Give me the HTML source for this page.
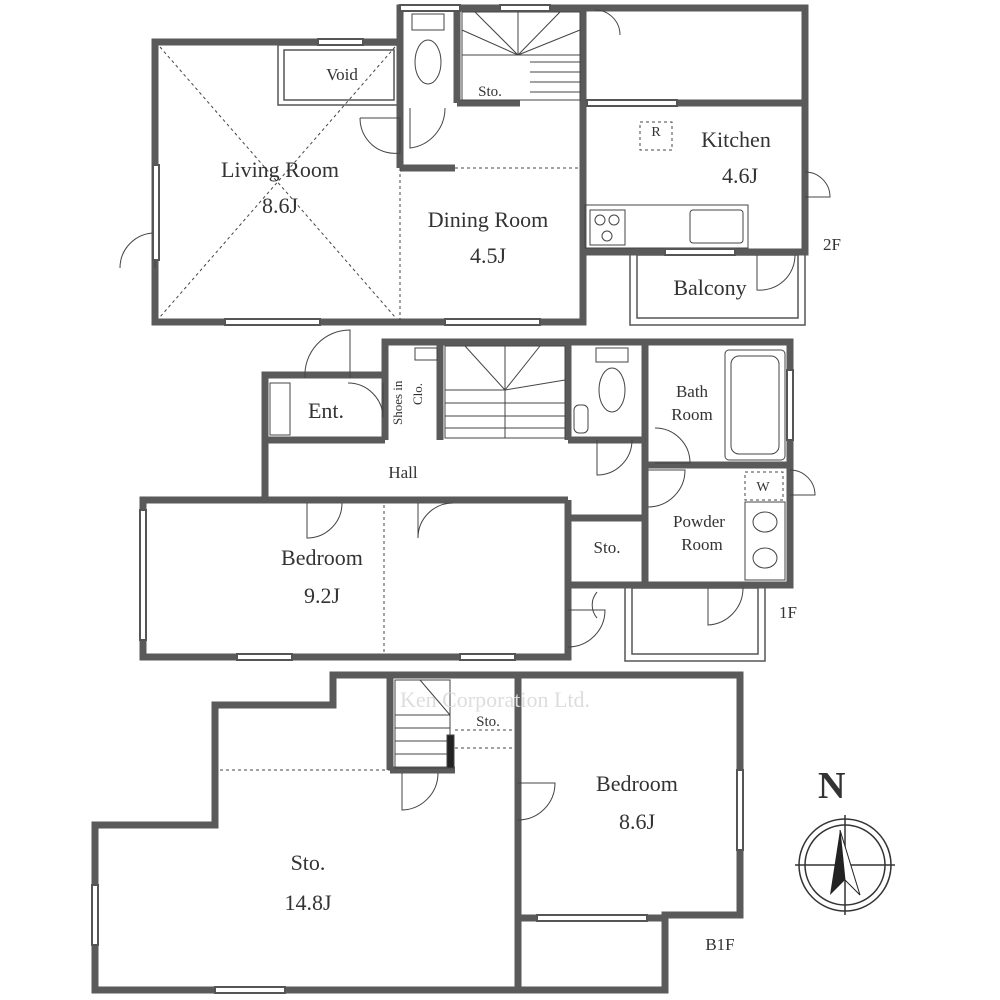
<!DOCTYPE html>
<html><head><meta charset="utf-8"><style>
html,body{margin:0;padding:0;background:#fff;}
svg{display:block;}
text{font-family:"Liberation Serif",serif;fill:#333;}
</style></head><body>
<svg width="1000" height="1000" viewBox="0 0 1000 1000" xmlns="http://www.w3.org/2000/svg">
<g fill="none" stroke="#555" stroke-width="1.5">
<!-- 2F balcony -->
<rect x="630" y="252" width="175" height="73"/><rect x="637" y="255" width="161" height="63"/>
<!-- 1F balcony -->
<rect x="625" y="585" width="140" height="76"/><rect x="632" y="588" width="126" height="66"/>
<!-- void -->
<rect x="278" y="45" width="122" height="60"/><rect x="284" y="50" width="110" height="50"/>
</g>
<!-- thick walls -->
<g fill="none" stroke="#5a5a5a" stroke-width="7" stroke-linejoin="miter">
<polygon points="155,42 400,42 400,8 805,8 805,252 583,252 583,322 155,322"/>
<line x1="400" y1="8" x2="400" y2="168"/>
<line x1="400" y1="168" x2="455" y2="168"/>
<line x1="583" y1="103" x2="805" y2="103"/>
<line x1="583" y1="8" x2="583" y2="252"/>
<line x1="457" y1="8" x2="457" y2="103"/>
<line x1="457" y1="103" x2="520" y2="103"/>
<polygon points="265,375 385,375 385,342 790,342 790,585 568,585 568,657 143,657 143,500 265,500"/>
<line x1="143" y1="500" x2="568" y2="500"/>
<line x1="568" y1="500" x2="568" y2="585"/>
<line x1="568" y1="518" x2="645" y2="518"/>
<line x1="265" y1="440" x2="385" y2="440"/>
<line x1="385" y1="342" x2="385" y2="440"/>
<line x1="440" y1="342" x2="440" y2="440"/>
<line x1="568" y1="342" x2="568" y2="440"/>
<line x1="568" y1="440" x2="645" y2="440"/>
<line x1="645" y1="342" x2="645" y2="585"/>
<line x1="645" y1="465" x2="790" y2="465"/>
<polygon points="333,675 740,675 740,915 665,915 665,990 95,990 95,825 215,825 215,705 333,705"/>
<line x1="518" y1="675" x2="518" y2="990"/>
<line x1="518" y1="918" x2="665" y2="918"/>
<line x1="390" y1="675" x2="390" y2="770"/>
<line x1="390" y1="770" x2="455" y2="770"/>
</g>
<g fill="none" stroke="#444" stroke-width="1">
<!-- living diagonals -->
<line x1="160" y1="47" x2="395" y2="317" stroke-dasharray="3,3"/>
<line x1="395" y1="47" x2="160" y2="317" stroke-dasharray="3,3"/>
<line x1="455" y1="168" x2="580" y2="168" stroke-dasharray="3,3"/>
<line x1="400" y1="168" x2="400" y2="320" stroke-dasharray="3,3"/>
<line x1="384" y1="505" x2="384" y2="652" stroke-dasharray="3,3"/>
<line x1="220" y1="770" x2="390" y2="770" stroke-dasharray="3,3"/>
<line x1="455" y1="730" x2="515" y2="730" stroke-dasharray="3,3"/>
<line x1="455" y1="748" x2="515" y2="748" stroke-dasharray="3,3"/>
<rect x="640" y="122" width="32" height="28" stroke-dasharray="3,3"/>
<rect x="745" y="472" width="38" height="28" stroke-dasharray="3,3"/>
<!-- stairs 2F -->
<rect x="462" y="12" width="118" height="88"/>
<line x1="462" y1="55" x2="580" y2="55"/><line x1="530" y1="62" x2="580" y2="62"/><line x1="530" y1="72" x2="580" y2="72"/><line x1="530" y1="82" x2="580" y2="82"/><line x1="530" y1="92" x2="580" y2="92"/>
<line x1="518" y1="12" x2="518" y2="55"/><line x1="475" y1="12" x2="518" y2="55"/><line x1="560" y1="12" x2="518" y2="55"/><line x1="580" y1="30" x2="518" y2="55"/>
<line x1="462" y1="30" x2="518" y2="55"/>
<!-- stairs 1F -->
<rect x="445" y="346" width="120" height="92"/>
<line x1="505" y1="346" x2="505" y2="438"/>
<line x1="445" y1="390" x2="505" y2="390"/><line x1="445" y1="403" x2="505" y2="403"/><line x1="445" y1="416" x2="505" y2="416"/><line x1="445" y1="428" x2="505" y2="428"/>
<line x1="505" y1="390" x2="465" y2="346"/><line x1="505" y1="390" x2="540" y2="346"/><line x1="505" y1="390" x2="565" y2="380"/>
<line x1="505" y1="403" x2="565" y2="403"/><line x1="505" y1="416" x2="565" y2="416"/><line x1="505" y1="428" x2="565" y2="428"/>
<!-- stairs B1F -->
<rect x="395" y="680" width="55" height="88"/>
<line x1="395" y1="715" x2="450" y2="715"/><line x1="395" y1="728" x2="450" y2="728"/><line x1="395" y1="741" x2="450" y2="741"/><line x1="395" y1="754" x2="450" y2="754"/>
<line x1="420" y1="680" x2="450" y2="715"/>
<!-- kitchen counter -->
<rect x="585" y="205" width="163" height="43"/>
<rect x="590" y="210" width="35" height="35"/><circle cx="600" cy="220" r="5"/><circle cx="614" cy="220" r="5"/><circle cx="607" cy="236" r="5"/>
<rect x="690" y="210" width="53" height="33" rx="3"/>
<!-- toilets -->
<rect x="412" y="14" width="32" height="16"/><ellipse cx="428" cy="62" rx="13" ry="22"/>
<rect x="596" y="348" width="32" height="14"/><ellipse cx="612" cy="390" rx="13" ry="22"/>
<rect x="574" y="405" width="14" height="28" rx="5"/>
<!-- bath -->
<rect x="725" y="350" width="60" height="110" rx="4"/><rect x="731" y="356" width="48" height="98" rx="8"/>
<rect x="745" y="502" width="40" height="78"/><ellipse cx="765" cy="522" rx="12" ry="10"/><ellipse cx="765" cy="558" rx="12" ry="10"/>
<rect x="415" y="348" width="22" height="12"/>
<rect x="270" y="383" width="20" height="52"/>
<rect x="447" y="735" width="7" height="33" fill="#222"/>
<!-- doors -->
<path d="M120,268 A35,35 0 0 1 155,233 L155,268"/>
<path d="M360,118 L400,118 L400,153 A35,35 0 0 1 360,118"/>
<path d="M410,108 L410,148 A40,40 0 0 0 445,108"/>
<path d="M805,172 A25,25 0 0 1 830,197 L805,197"/>
<path d="M757,255 L757,290 A35,35 0 0 0 795,255"/>
<path d="M305,378 A45,45 0 0 1 350,330 L350,378"/>
<path d="M348,383 A35,35 0 0 1 383,418 L383,383"/>
<path d="M597,440 L597,475 A35,35 0 0 0 632,440"/>
<path d="M655,428 A35,35 0 0 1 690,463 L655,463"/>
<path d="M648,470 L685,470 A37,37 0 0 1 648,507"/>
<path d="M790,470 A25,25 0 0 1 815,495 L790,495"/>
<path d="M307,503 L307,538 A35,35 0 0 0 342,503"/>
<path d="M418,503 L418,538 A35,35 0 0 1 453,503"/>
<path d="M568,610 L605,610 A37,37 0 0 1 568,647"/>
<path d="M708,588 L708,625 A37,37 0 0 0 743,588"/>
<path d="M597,592 A20,20 0 0 0 597,618"/>
<path d="M402,773 L402,810 A37,37 0 0 0 438,773"/>
<path d="M518,783 L555,783 A37,37 0 0 1 518,820"/>
<path d="M595,10 A25,25 0 0 1 620,35"/>
</g>
<!-- windows -->
<g stroke="#555" stroke-width="2" fill="#fff">
<rect x="225" y="319" width="95" height="6"/><rect x="445" y="319" width="95" height="6"/>
<rect x="153" y="165" width="6" height="95"/><rect x="318" y="39" width="45" height="6"/>
<rect x="587" y="100" width="90" height="6"/><rect x="665" y="249" width="70" height="6"/>
<rect x="237" y="654" width="55" height="6"/><rect x="460" y="654" width="55" height="6"/>
<rect x="140" y="510" width="6" height="130"/><rect x="787" y="370" width="6" height="70"/>
<rect x="737" y="770" width="6" height="80"/><rect x="537" y="915" width="110" height="6"/>
<rect x="215" y="987" width="70" height="6"/><rect x="92" y="885" width="6" height="60"/>
<rect x="400" y="5" width="60" height="6"/><rect x="500" y="5" width="50" height="6"/>
</g>
<!-- compass -->
<g fill="none" stroke="#333" stroke-width="1.5">
<circle cx="845" cy="865" r="46"/><circle cx="845" cy="865" r="40"/>
<line x1="795" y1="865" x2="895" y2="865"/><line x1="845" y1="815" x2="845" y2="915"/>
</g>
<polygon points="840,830 830,895 845,880" fill="#222"/><polygon points="840,830 860,895 845,880" fill="#fff" stroke="#222"/>
<text x="818" y="798" font-size="38" font-weight="bold">N</text>
<!-- labels -->
<g font-size="22" text-anchor="middle">
<text x="280" y="177">Living Room</text><text x="280" y="213">8.6J</text>
<text x="488" y="227">Dining Room</text><text x="488" y="263">4.5J</text>
<text x="736" y="147">Kitchen</text><text x="740" y="183">4.6J</text>
<text x="710" y="295">Balcony</text>
<text x="322" y="565">Bedroom</text><text x="322" y="603">9.2J</text>
<text x="637" y="791">Bedroom</text><text x="637" y="829">8.6J</text>
<text x="308" y="870">Sto.</text><text x="308" y="910">14.8J</text>
<text x="326" y="418">Ent.</text>
</g>
<g font-size="17" text-anchor="middle">
<text x="342" y="80">Void</text><text x="490" y="96" font-size="15">Sto.</text>
<text x="403" y="478">Hall</text><text x="607" y="553">Sto.</text>
<text x="692" y="397">Bath</text><text x="692" y="420">Room</text>
<text x="699" y="527">Powder</text><text x="702" y="550">Room</text>
<text x="488" y="726" font-size="15">Sto.</text>
<text x="656" y="136" font-size="14">R</text><text x="763" y="491" font-size="14">W</text>
<text x="832" y="250">2F</text><text x="788" y="618">1F</text><text x="720" y="950">B1F</text>
</g>
<text x="0" y="0" font-size="13" transform="translate(402,425) rotate(-90)">Shoes in</text>
<text x="0" y="0" font-size="13" transform="translate(422,405) rotate(-90)">Clo.</text>
<text x="495" y="707" font-size="22" text-anchor="middle" fill="#ddd" style="fill:#ddd">Ken Corporation Ltd.</text>
</svg>
</body></html>
